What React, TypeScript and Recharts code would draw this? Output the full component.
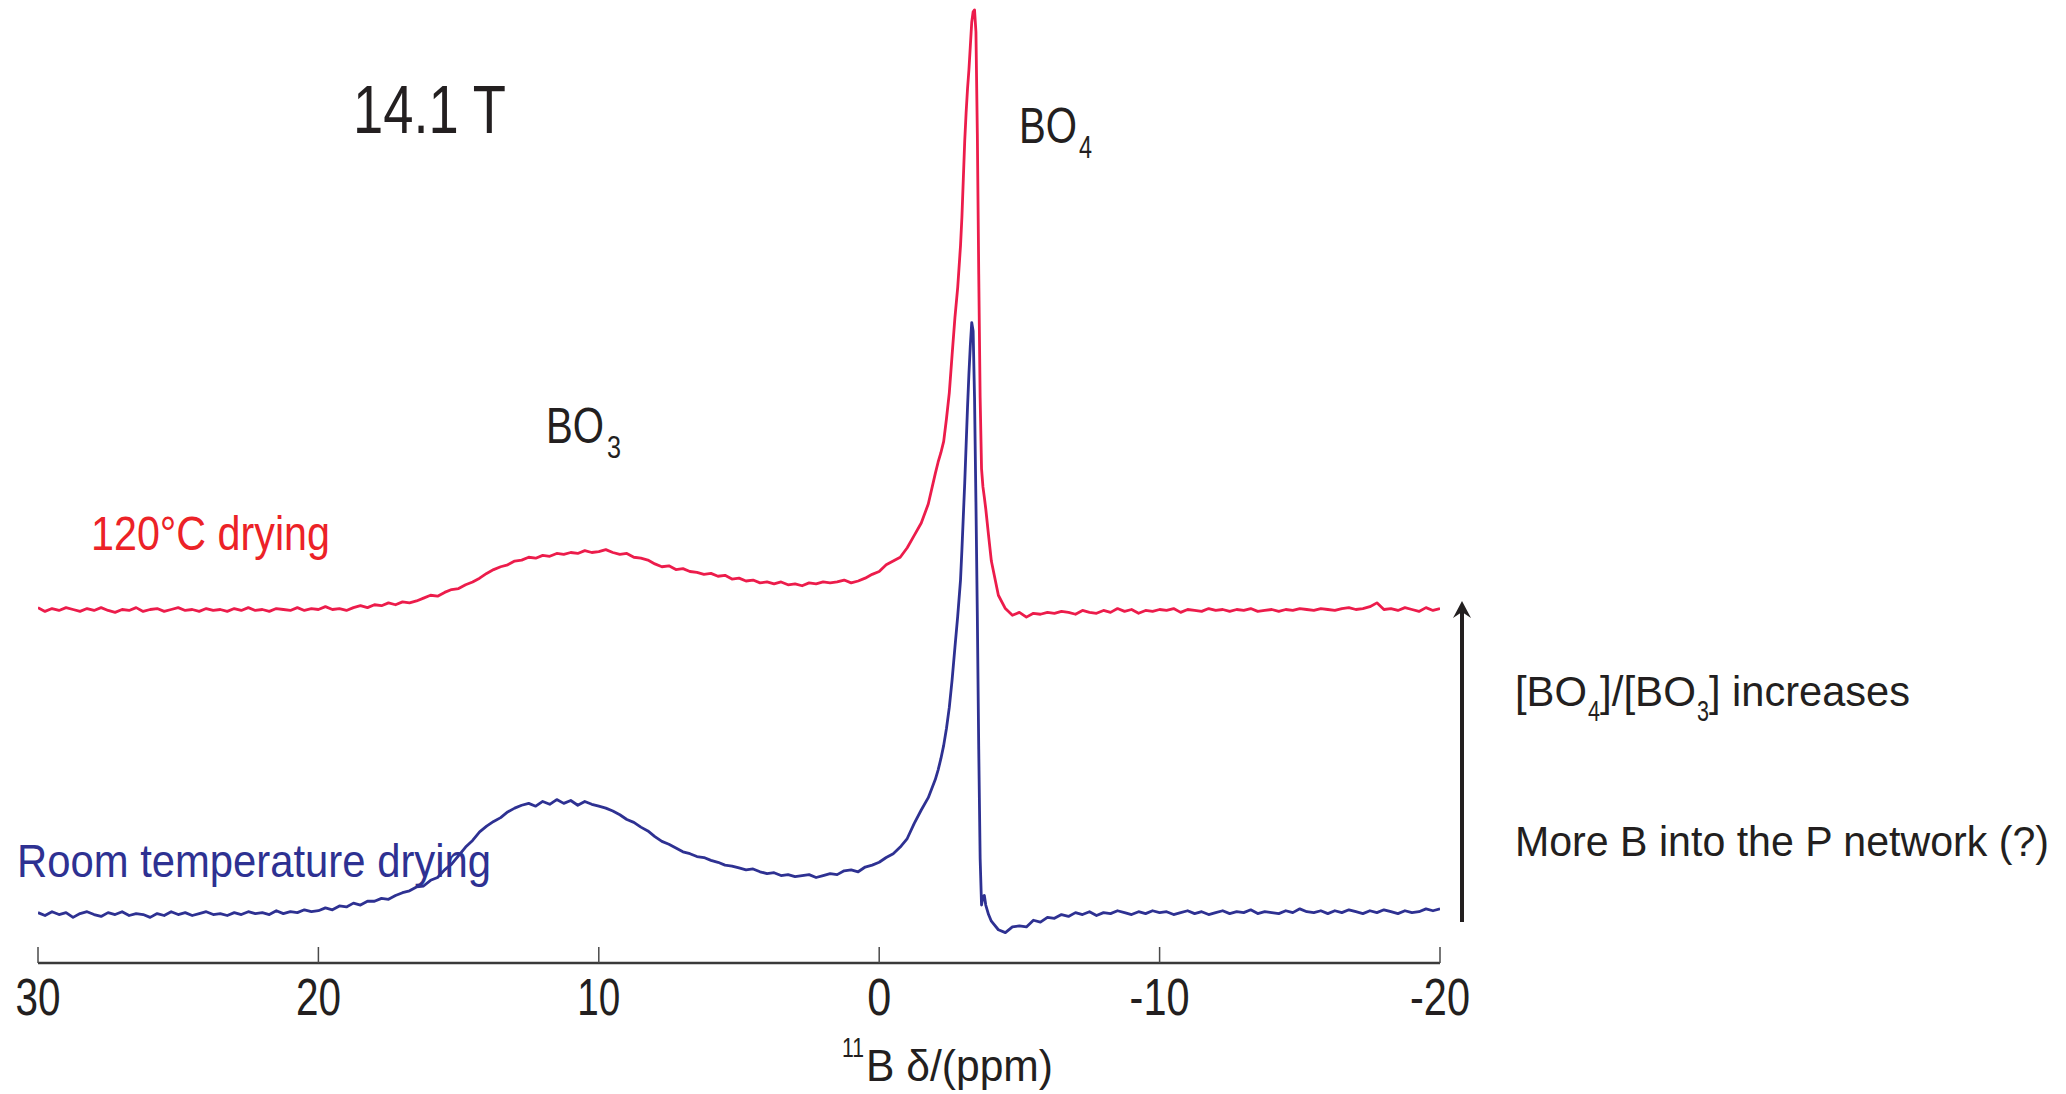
import React from 'react';
import { LineChart, Line, XAxis, YAxis } from 'recharts';

// Chemical shift axis (ppm), shared by both spectra. Dense sampling around the BO4 line.
const ppm = [
  30, 29.75, 29.5, 29.25, 29, 28.75, 28.5, 28.25,
  28, 27.75, 27.5, 27.25, 27, 26.75, 26.5, 26.25,
  26, 25.75, 25.5, 25.25, 25, 24.75, 24.5, 24.25,
  24, 23.75, 23.5, 23.25, 23, 22.75, 22.5, 22.25,
  22, 21.75, 21.5, 21.25, 21, 20.75, 20.5, 20.25,
  20, 19.75, 19.5, 19.25, 19, 18.75, 18.5, 18.25,
  18, 17.75, 17.5, 17.25, 17, 16.75, 16.5, 16.25,
  16, 15.75, 15.5, 15.25, 15, 14.75, 14.5, 14.25,
  14, 13.75, 13.5, 13.25, 13, 12.75, 12.5, 12.25,
  12, 11.75, 11.5, 11.25, 11, 10.75, 10.5, 10.25,
  10, 9.75, 9.5, 9.25, 9, 8.75, 8.5, 8.25,
  8, 7.75, 7.5, 7.25, 7, 6.75, 6.5, 6.25,
  6, 5.75, 5.5, 5.25, 5, 4.75, 4.5, 4.25,
  4, 3.75, 3.5, 3.25, 3, 2.75, 2.5, 2.25,
  2, 1.75, 1.5, 1.25, 1, 0.75, 0.5, 0.25,
  0, -0.25, -0.5, -0.75, -1, -1.25, -1.5, -1.75,
  -2,
  -2.1, -2.2, -2.3, -2.4, -2.5, -2.6, -2.7, -2.8, -2.9, -2.95,
  -3, -3.05, -3.1, -3.15, -3.2, -3.25, -3.3, -3.35, -3.4, -3.45,
  -3.5, -3.55, -3.6, -3.65, -3.7, -3.75, -3.8, -3.9, -4,
  -4.25, -4.5, -4.75, -5, -5.25, -5.5, -5.75, -6,
  -6.25, -6.5, -6.75, -7, -7.25, -7.5, -7.75, -8,
  -8.25, -8.5, -8.75, -9, -9.25, -9.5, -9.75, -10,
  -10.25, -10.5, -10.75, -11, -11.25, -11.5, -11.75, -12,
  -12.25, -12.5, -12.75, -13, -13.25, -13.5, -13.75, -14,
  -14.25, -14.5, -14.75, -15, -15.25, -15.5, -15.75, -16,
  -16.25, -16.5, -16.75, -17, -17.25, -17.5, -17.75, -18,
  -18.25, -18.5, -18.75, -19, -19.25, -19.5, -19.75, -20,
];

// 120 °C dried sample (stacked above the room-temperature trace)
const dried120 = [
  36.9, 36.5, 36.8, 36.6, 36.9, 36.7, 36.5, 36.8,
  36.6, 36.9, 36.6, 36.4, 36.7, 36.6, 36.9, 36.5,
  36.7, 36.8, 36.5, 36.7, 36.9, 36.6, 36.7, 36.5,
  36.8, 36.6, 36.7, 36.5, 36.8, 36.6, 36.9, 36.6,
  36.7, 36.5, 36.8, 36.7, 36.6, 36.9, 36.6, 36.8,
  36.7, 37.0, 36.7, 36.8, 36.6, 36.9, 37.1, 36.9,
  37.2, 37.1, 37.4, 37.2, 37.5, 37.4, 37.6, 37.9,
  38.2, 38.1, 38.5, 38.8, 38.9, 39.3, 39.6, 40.0,
  40.5, 40.9, 41.2, 41.4, 41.8, 41.9, 42.2, 42.1,
  42.4, 42.3, 42.6, 42.5, 42.7, 42.6, 42.9, 42.7,
  42.8, 43.0, 42.7, 42.5, 42.6, 42.2, 42.1, 41.9,
  41.5, 41.2, 41.3, 40.9, 41.0, 40.7, 40.6, 40.4,
  40.5, 40.2, 40.3, 39.9, 40.0, 39.7, 39.8, 39.5,
  39.6, 39.4, 39.6, 39.3, 39.4, 39.2, 39.5, 39.4,
  39.6, 39.5, 39.6, 39.8, 39.5, 39.7, 40.0, 40.4,
  40.7, 41.4, 41.8, 42.2, 43.2, 44.5, 45.8, 47.8,
  51.0,
  52.2, 53.2, 54.4, 56.8, 59.5, 63.5, 67.4, 70.6, 75.0, 78.0,
  82.0, 86.0, 89.0, 91.5, 93.5, 96.0, 98.5, 99.6, 99.8, 97.5,
  86.8, 72.0, 59.0, 51.5, 49.6, 48.5, 47.3, 44.5, 41.8,
  38.2, 36.8, 36.1, 36.4, 35.9, 36.3, 36.2, 36.4,
  36.3, 36.5, 36.4, 36.2, 36.6, 36.4, 36.3, 36.6,
  36.4, 36.8, 36.5, 36.7, 36.3, 36.6, 36.5, 36.7,
  36.6, 36.8, 36.4, 36.7, 36.6, 36.5, 36.8, 36.6,
  36.7, 36.5, 36.7, 36.6, 36.8, 36.5, 36.6, 36.7,
  36.5, 36.7, 36.6, 36.8, 36.7, 36.6, 36.8, 36.7,
  36.6, 36.8, 36.9, 36.7, 36.8, 37.0, 37.4, 36.7,
  36.8, 36.6, 36.9, 36.7, 36.5, 36.9, 36.6, 36.8,
];

// Room-temperature dried sample
const driedRoomTemp = [
  4.8, 4.5, 4.9, 4.6, 4.8, 4.3, 4.7, 4.9,
  4.6, 4.4, 4.8, 4.6, 4.9, 4.5, 4.7, 4.6,
  4.3, 4.7, 4.5, 4.9, 4.6, 4.8, 4.5, 4.7,
  4.9, 4.6, 4.7, 4.5, 4.8, 4.6, 4.9, 4.7,
  4.8, 4.6, 5.0, 4.7, 4.9, 4.8, 5.1, 4.9,
  5.0, 5.3, 5.1, 5.5, 5.4, 5.8, 5.6, 6.0,
  6.0, 6.3, 6.2, 6.6, 6.9, 7.1, 7.5, 7.6,
  8.2, 8.5, 9.3, 9.9, 10.8, 11.7, 12.4, 13.3,
  13.9, 14.4, 14.8, 15.4, 15.8, 16.1, 16.3, 16.0,
  16.5, 16.2, 16.7, 16.3, 16.6, 16.1, 16.5, 16.2,
  16.0, 15.8, 15.5, 15.1, 14.6, 14.3, 13.8, 13.4,
  12.8, 12.3, 12.0, 11.6, 11.2, 11.0, 10.7, 10.6,
  10.3, 10.1, 9.8, 9.7, 9.5, 9.3, 9.4, 9.1,
  8.9, 9.0, 8.7, 8.8, 8.6, 8.7, 8.8, 8.5,
  8.7, 8.9, 8.8, 9.2, 9.3, 9.1, 9.6, 9.8,
  10.1, 10.6, 11.0, 11.7, 12.6, 14.2, 15.6, 16.9,
  18.8,
  19.8, 21.0, 22.4, 24.2, 26.4, 29.3, 32.7, 36.0, 39.8, 43.0,
  46.5, 50.0, 54.0, 58.0, 61.5, 64.5, 66.9, 66.0, 59.0, 48.0,
  36.0, 22.0, 10.5, 5.6, 6.5, 6.6, 5.6, 4.6, 3.9,
  3.0, 2.7, 3.3, 3.4, 3.3, 4.0, 3.8, 4.3,
  4.2, 4.6, 4.4, 4.8, 4.6, 4.9, 4.5, 4.8,
  4.7, 5.0, 4.8, 4.6, 4.9, 4.7, 5.0, 4.8,
  4.9, 4.6, 4.8, 5.0, 4.7, 4.9, 4.6, 4.8,
  5.0, 4.7, 4.9, 4.8, 5.1, 4.7, 4.9, 4.8,
  4.7, 5.0, 4.8, 5.2, 4.9, 4.8, 5.0, 4.7,
  5.0, 4.8, 5.1, 4.9, 4.7, 5.0, 4.8, 5.1,
  4.9, 4.7, 5.0, 4.8, 4.9, 5.2, 5.0, 5.2,
];

const xTicks = [30, 20, 10, 0, -10, -20];
const tickLabelWidths: Record<string, number> = { '30': 45, '20': 45, '10': 43, '0': 24, '-10': 60, '-20': 60 };

const RED_LINE = '#ec1c4b';
const RED_TEXT = '#ec2227';
const BLUE = '#2e3192';
const INK = '#231f20';
const FONT = '"Liberation Sans", Arial, Helvetica, sans-serif';

const W = 2066;
const H = 1094;

const rows = ppm.map((p, i) => ({ ppm: p, hot: dried120[i], room: driedRoomTemp[i] }));

type LabelProps = {
  x: number;
  y: number;
  size: number;
  len: number;
  fill?: string;
  anchor?: 'start' | 'middle' | 'end';
  children: React.ReactNode;
};

const Txt = ({ x, y, size, len, fill = INK, anchor = 'start', children }: LabelProps) => (
  <text
    x={x}
    y={y}
    fontSize={size}
    fontFamily={FONT}
    fill={fill}
    textAnchor={anchor}
    textLength={len}
    lengthAdjust="spacingAndGlyphs"
  >
    {children}
  </text>
);

const PpmTick = (props: any) => {
  const { x, y, payload } = props;
  const label = String(payload.value);
  return (
    <g>
      <line x1={x} x2={x} y1={y} y2={y - 16} stroke="#4a4a4a" strokeWidth={1.5} />
      <Txt x={x} y={y + 52} size={52} len={tickLabelWidths[label] ?? 40} anchor="middle">
        {label}
      </Txt>
    </g>
  );
};

export default function App() {
  return (
    <div style={{ position: 'absolute', left: 0, top: 0, width: W, height: H, background: '#fff' }}>
      <LineChart
        width={W}
        height={H}
        data={rows}
        margin={{ top: 8, right: 626, bottom: 0, left: 38 }}
      >
        <XAxis
          dataKey="ppm"
          type="number"
          domain={[-20, 30]}
          reversed
          allowDataOverflow
          ticks={xTicks}
          interval={0}
          height={131}
          tickSize={0}
          tickMargin={0}
          tickLine={false}
          axisLine={{ stroke: '#3a3a3a', strokeWidth: 2.5 }}
          tick={<PpmTick />}
        />
        <YAxis hide type="number" domain={[-0.5, 100]} allowDataOverflow />
        <Line
          type="linear"
          dataKey="hot"
          name="120°C drying"
          stroke={RED_LINE}
          strokeWidth={2.8}
          strokeLinejoin="round"
          dot={false}
          isAnimationActive={false}
        />
        <Line
          type="linear"
          dataKey="room"
          name="Room temperature drying"
          stroke={BLUE}
          strokeWidth={2.8}
          strokeLinejoin="round"
          dot={false}
          isAnimationActive={false}
        />
      </LineChart>

      <svg
        width={W}
        height={H}
        style={{ position: 'absolute', left: 0, top: 0, pointerEvents: 'none' }}
      >
        <Txt x={353} y={133} size={68} len={153}>14.1 T</Txt>

        <Txt x={1019} y={143} size={50} len={58}>BO</Txt>
        <Txt x={1079} y={158} size={32} len={13}>4</Txt>

        <Txt x={546} y={443} size={50} len={58}>BO</Txt>
        <Txt x={607} y={458} size={32} len={14}>3</Txt>

        <Txt x={91} y={550} size={48} len={239} fill={RED_TEXT}>120°C drying</Txt>
        <Txt x={17} y={877} size={47} len={474} fill={BLUE}>Room temperature drying</Txt>

        <line x1={1462} x2={1462} y1={610} y2={922} stroke={INK} strokeWidth={4} />
        <polygon points="1462,601 1471,618 1462,612 1453,618" fill={INK} />

        <Txt x={1515} y={706} size={43} len={72}>[BO</Txt>
        <Txt x={1588} y={721} size={29} len={12}>4</Txt>
        <Txt x={1600} y={706} size={43} len={96}>]/[BO</Txt>
        <Txt x={1697} y={721} size={29} len={12}>3</Txt>
        <Txt x={1709} y={706} size={43} len={201}>] increases</Txt>

        <Txt x={1515} y={856} size={42} len={534}>More B into the P network (?)</Txt>

        <Txt x={842} y={1057} size={28} len={22}>11</Txt>
        <Txt x={866} y={1081} size={45} len={187}>B δ/(ppm)</Txt>
      </svg>
    </div>
  );
}
